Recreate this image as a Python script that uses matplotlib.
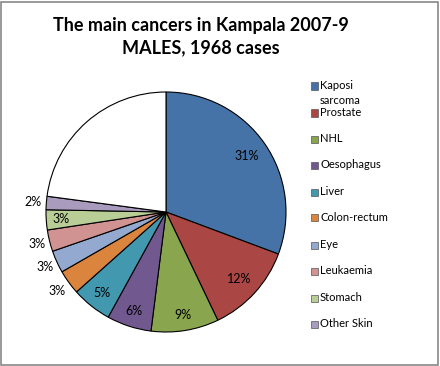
import numpy as np
import matplotlib.pyplot as plt
from matplotlib.patches import Rectangle

# Share of 1968 male cases (percent); last slice is the unlabelled remainder
cancers = ['Kaposi\nsarcoma', 'Prostate', 'NHL', 'Oesophagus', 'Liver',
           'Colon-rectum', 'Eye', 'Leukaemia', 'Stomach', 'Other Skin']
shares = [30.7, 12.2, 9.1, 6.0, 5.4, 3.3, 3.0, 2.9, 2.7, 1.8]
other = 100 - sum(shares)
pct_labels = ['31%', '12%', '9%', '6%', '5%', '3%', '3%', '3%', '3%', '2%']

colors = ['#4572A7', '#AA4643', '#89A54E', '#71588F', '#4198AF',
          '#DB843D', '#93A9CF', '#D19392', '#B9CD96', '#A99BBD', '#FFFFFF']
# radial position of each percentage label (fraction of radius)
label_r = [0.82, 0.83, 0.87, 0.87, 0.86, 1.12, 1.11, 1.11, 0.88, 1.11]

plt.rcParams['font.family'] = ['Lato', 'DejaVu Sans']

fig = plt.figure(figsize=(4.4, 3.66), dpi=100)
W, H = 440, 366

# chart border
fig.patches.append(Rectangle((1 / W, 1 / H), 1 - 3 / W, 1 - 3 / H, transform=fig.transFigure,
                             fill=False, edgecolor='#888888', linewidth=1.2))

# pie centre (166, 212) px, radius 120 px
cx, cy, r = 166, 212, 120
ax = fig.add_axes([(cx - r) / W, (H - cy - r) / H, 2 * r / W, 2 * r / H])
wedges, _ = ax.pie(shares + [other], colors=colors, startangle=90, counterclock=False,
                   wedgeprops=dict(edgecolor='black', linewidth=0.8))
ax.set_xlim(-1, 1)
ax.set_ylim(-1, 1)
ax.set_aspect('equal')

for w, txt, d in zip(wedges, pct_labels, label_r):
    mid = np.deg2rad((w.theta1 + w.theta2) / 2)
    ax.text(d * np.cos(mid), d * np.sin(mid), txt, ha='center', va='center',
            fontsize=9, color='black')

fig.text(201 / W, 1 - 25 / H, 'The main cancers in Kampala 2007-9', ha='center', va='center',
         fontsize=13, fontweight='bold')
fig.text(201 / W, 1 - 48 / H, 'MALES, 1968 cases', ha='center', va='center',
         fontsize=13, fontweight='bold')

# legend
ys = [86, 113, 139, 165, 192, 218, 245, 271, 298, 324]
for name, col, y in zip(cancers, colors, ys):
    fig.patches.append(Rectangle((311 / W, 1 - (y + 3.5) / H), 7 / W, 7 / H,
                                 transform=fig.transFigure, facecolor=col,
                                 edgecolor='#555555', linewidth=0.5))
    fig.text(320 / W, 1 - (y - 6) / H, name, ha='left', va='top', fontsize=8,
             linespacing=1.45)

fig.savefig('out.png', dpi=100)
